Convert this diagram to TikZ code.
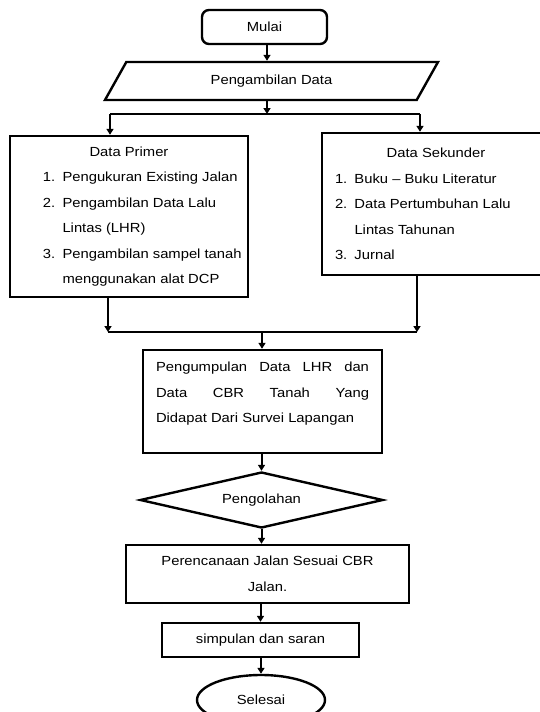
\documentclass[tikz,border=0pt]{standalone}
\usepackage{fontspec}
\setmainfont{Liberation Sans}[FakeStretch=1.12]
\usetikzlibrary{shapes.geometric,arrows.meta}
\newcommand{\lst}[2]{\par\noindent\makebox[19.5pt][l]{#1}#2}

\begin{document}
\begin{tikzpicture}[x=1pt, y=-1pt, line width=2pt,
font=\fontsize{13.2pt}{25.5pt}\selectfont,
arr/.style={-{Triangle[width=7pt,length=6pt]}},
startstop/.style={rectangle, rounded corners=7pt, draw, line width=2.4pt, minimum width=125pt, minimum height=34pt},
io/.style={trapezium, trapezium left angle=30, trapezium right angle=150, trapezium stretches body, draw, line width=2.4pt, minimum width=333pt, minimum height=38pt, inner sep=0pt},
proc/.style={rectangle, draw, line width=2.4pt, inner sep=6pt},
decision/.style={diamond, draw, line width=2.4pt, aspect=4.3, minimum width=243pt, minimum height=56pt, inner sep=0pt},
finish/.style={ellipse, draw, line width=2.4pt, minimum width=128pt, minimum height=50pt}]
\useasboundingbox (0,0) rectangle (540,712);

\node[startstop] (mulai) at (264.5,27) {Mulai};
\node[io] (ambil) at (271.5,81) {Pengambilan Data};
\node[proc, minimum width=238pt, minimum height=161pt] (primer) at (129,216.5) {\begin{minipage}{226pt}\centering Data Primer\par\raggedright\leftskip=27pt
\lst{1.}{Pengukuran Existing Jalan}
\lst{2.}{Pengambilan Data Lalu}
\lst{}{Lintas (LHR)}
\lst{3.}{Pengambilan sampel tanah}
\lst{}{menggunakan alat DCP}\end{minipage}};
\node[proc, minimum width=228pt, minimum height=142pt] (sekunder) at (436,204) {\begin{minipage}{216pt}\centering Data Sekunder\par\raggedright\leftskip=7pt
\lst{1.}{Buku -- Buku Literatur}
\lst{2.}{Data Pertumbuhan Lalu}
\lst{}{Lintas Tahunan}
\lst{3.}{Jurnal}\end{minipage}};
\node[proc, minimum width=239pt] (kumpul) at (262.5,401.5) {\begin{minipage}[c][91pt][t]{213pt}\vspace*{6pt}
\noindent\makebox[213pt][s]{Pengumpulan Data LHR dan}\par
\noindent\makebox[213pt][s]{Data CBR Tanah Yang}\par
\noindent Didapat Dari Survei Lapangan\end{minipage}};
\node[decision] (olah) at (261.5,500) {Pengolahan};
\node[proc, align=center, minimum width=283pt, minimum height=58pt] (rencana) at (267.5,574) {Perencanaan Jalan Sesuai CBR\\ Jalan.};
\node[proc, minimum width=197pt, minimum height=34pt] (simpul) at (260.5,640) {simpulan dan saran};
\node[finish] (selesai) at (261,700) {Selesai};

% cabang dan pertemuan garis
\coordinate (split) at (267,114);
\coordinate (lsplit) at (110,114);
\coordinate (rsplit) at (420,114);
\coordinate (ljoin) at (108,332);
\coordinate (rjoin) at (417,332);
\coordinate (cjoin) at (262,332);

\draw[arr] (mulai.south -| split) -- (split |- ambil.north);
\draw[arr] (split |- ambil.south) -- (split);
\draw (lsplit) -- (rsplit);
\draw[arr] (lsplit) -- (lsplit |- primer.north);
\draw[arr] (rsplit) -- (rsplit |- sekunder.north);
\draw[arr] (ljoin |- primer.south) -- (ljoin);
\draw[arr] (rjoin |- sekunder.south) -- (rjoin);
\draw (ljoin) -- (rjoin);
\draw[arr] (cjoin) -- (cjoin |- kumpul.north);
\draw[arr] (olah.north |- kumpul.south) -- (olah.north);
\draw[arr] (olah.south) -- (olah.south |- rencana.north);
\draw[arr] (simpul.north |- rencana.south) -- (simpul.north);
\draw[arr] (selesai.north |- simpul.south) -- (selesai.north);
\end{tikzpicture}
\end{document}
